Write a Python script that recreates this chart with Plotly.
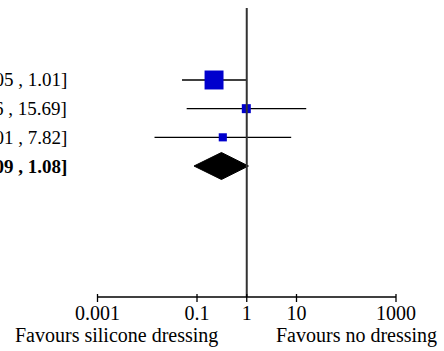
import math
import plotly.graph_objects as go

# ---- data ----
ci_labels = ["[0.05 , 1.01]", "[0.06 , 15.69]", "[0.01 , 7.82]", "[0.09 , 1.08]"]
study_est = [0.22, 0.98, 0.33]
study_lo = [0.05, 0.062, 0.014]
study_hi = [1.01, 15.69, 7.82]
study_weight = [71, 16, 13]
pooled_est = 0.31
pooled_lo = 0.087
pooled_hi = 1.08
tick_vals = [0.001, 0.1, 1, 10, 1000]
tick_text = ["0.001", "0.1", "1", "10", "1000"]
favours_left = "Favours silicone dressing"
favours_right = "Favours no dressing"

# ---- layout constants ----
W, H = 444, 351
T, B = 8, 54
PH = H - T - B
ppd = (396 - 97.5) / 6.0
x_range = [-3 - 97.5 / ppd, 3 + (W - 396) / ppd]
row_px = 28.67
y_range = [1 - (H - B - 166) / row_px, 1 + (166 - T) / row_px]
FONT = "Liberation Serif"
FS = 20
FS_ROW = 19

n = len(study_est)
study_y = [n + 1 - i for i in range(n)]  # 4,3,2
pooled_y = 1

fig = go.Figure()

# whiskers
wx, wy = [], []
for lo, hi, y in zip(study_lo, study_hi, study_y):
    wx += [lo, hi, None]
    wy += [y, y, None]
fig.add_trace(go.Scatter(x=wx, y=wy, mode="lines",
                         line=dict(color="black", width=1.3),
                         hoverinfo="skip", showlegend=False))

# squares
fig.add_trace(go.Scatter(
    x=study_est, y=study_y, mode="markers",
    marker=dict(symbol="square", color="#0000CD", opacity=1,
                size=[2.25 * math.sqrt(w) for w in study_weight],
                line=dict(width=0)),
    showlegend=False))

# pooled diamond
h = 13.5 / row_px
fig.add_trace(go.Scatter(
    x=[pooled_lo, pooled_est, pooled_hi, pooled_est, pooled_lo],
    y=[pooled_y, pooled_y + h, pooled_y, pooled_y - h, pooled_y],
    mode="lines", fill="toself", fillcolor="black",
    line=dict(color="black", width=1), showlegend=False))

shapes = []
# reference line at 1
shapes.append(dict(type="line", xref="x", yref="y domain", x0=1, x1=1,
                   y0=0, y1=1, line=dict(color="#333333", width=2),
                   layer="above"))
# axis line
shapes.append(dict(type="line", xref="x", yref="y domain",
                   x0=tick_vals[0], x1=tick_vals[-1], y0=0, y1=0,
                   line=dict(color="black", width=1.3)))
for tv in tick_vals:
    shapes.append(dict(type="line", xref="x", yref="y domain",
                       x0=tv, x1=tv, y0=-5 / PH, y1=3 / PH,
                       line=dict(color="black", width=1.3)))

annotations = []
ys = study_y + [pooled_y]
for i, (lab, y) in enumerate(zip(ci_labels, ys)):
    txt = f"<b>{lab}</b>" if i == len(ci_labels) - 1 else lab
    annotations.append(dict(x=68.5 / W, xref="paper", y=y, yref="y",
                            text=txt, showarrow=False, xanchor="right",
                            yanchor="middle",
                            font=dict(family=FONT, size=FS_ROW, color="black")))
annotations.append(dict(x=117 / W, xref="paper", y=(H - B - 335) / PH,
                        yref="paper", text=favours_left, showarrow=False,
                        xanchor="center", yanchor="middle",
                        font=dict(family=FONT, size=FS, color="black")))
annotations.append(dict(x=356 / W, xref="paper", y=(H - B - 335) / PH,
                        yref="paper", text=favours_right, showarrow=False,
                        xanchor="center", yanchor="middle",
                        font=dict(family=FONT, size=FS, color="black")))

fig.update_layout(
    width=W, height=H,
    margin=dict(l=0, r=0, t=T, b=B),
    paper_bgcolor="white", plot_bgcolor="white",
    shapes=shapes, annotations=annotations,
    xaxis=dict(type="log", range=x_range, showgrid=False, zeroline=False,
               showline=False, ticks="", tickvals=tick_vals,
               ticktext=tick_text, ticklabelstandoff=2,
               tickfont=dict(family=FONT, size=FS, color="black"),
               fixedrange=True),
    yaxis=dict(range=y_range, visible=False, fixedrange=True),
    showlegend=False,
)

fig.write_html("out.html", config={"displayModeBar": False},
               post_script="document.body.style.margin='0';"
                           "document.body.style.overflow='hidden';")
